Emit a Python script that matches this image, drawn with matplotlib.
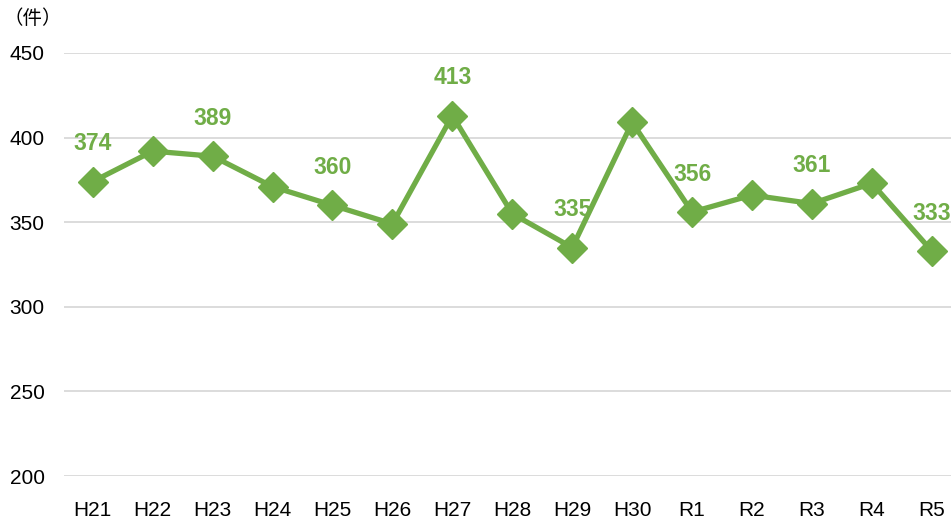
import matplotlib.pyplot as plt

years = ["H21", "H22", "H23", "H24", "H25", "H26", "H27", "H28",
         "H29", "H30", "R1", "R2", "R3", "R4", "R5"]
counts = [374, 392, 389, 371, 360, 349, 413, 355, 335, 409, 356, 366, 361, 373, 333]
labelled = ["H21", "H23", "H25", "H27", "H29", "R1", "R3", "R5"]

plt.rcParams['font.family'] = ['Liberation Sans', 'Noto Sans CJK JP', 'DejaVu Sans']

green = "#70AD47"

fig = plt.figure(figsize=(9.51, 5.22), dpi=100)
ax = fig.add_axes([0.0673, 0.0881, 0.9327, 0.8104])

x = list(range(len(years)))
ax.plot(x, counts, color=green, lw=3.8, marker="D", ms=15, zorder=3)

for i, (yr, v) in enumerate(zip(years, counts)):
    if yr in labelled:
        ax.annotate(str(v), (i, v), xytext=(0, 19), textcoords="offset points",
                    ha="center", va="bottom", color=green, fontsize=16.5,
                    fontweight="bold")

ax.set_ylim(200, 450)
ax.set_xlim(-0.48, 14.32)
ax.set_yticks([200, 250, 300, 350, 400, 450])
ax.set_xticks(x)
ax.set_xticklabels(years)
ax.tick_params(axis="both", length=0, labelsize=15)
ax.tick_params(axis="y", pad=14)
ax.tick_params(axis="x", pad=18)
ax.grid(axis="y", color="#d9d9d9", lw=1.3)
ax.set_axisbelow(True)
for s in ax.spines.values():
    s.set_visible(False)

fig.text(0.004, 0.965, "（件）", fontsize=14, family=['Noto Sans CJK JP', 'DejaVu Sans'],
         va="center", ha="left")

fig.savefig("out.png", dpi=100)
